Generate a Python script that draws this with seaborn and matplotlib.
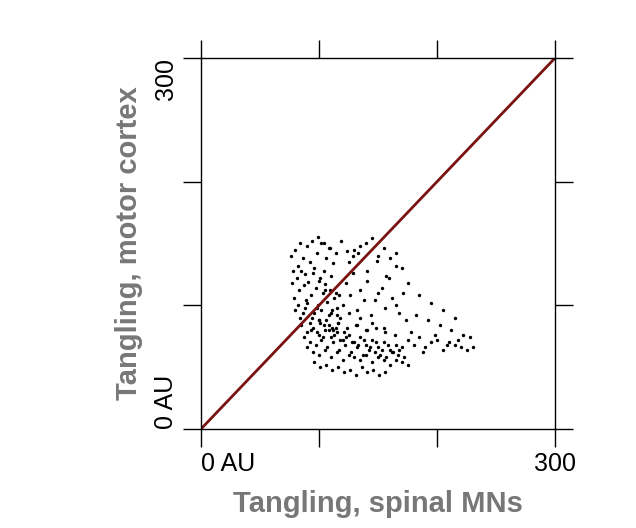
import matplotlib.pyplot as plt
import seaborn as sns
import pandas as pd

# tangling values (AU), spinal MNs vs motor cortex
spinal = [
    76, 78, 80, 82, 84, 86, 88, 90, 92, 94, 96, 98, 100, 102, 104, 106, 108, 110, 112, 114,
    77, 79, 81, 83, 85, 87, 89, 91, 93, 95, 97, 99, 101, 103, 105, 107, 109, 111, 113, 115,
    80, 84, 88, 92, 96, 100, 104, 108, 112, 116, 82, 86, 90, 94, 98, 102, 106, 110, 114, 118,
    85, 90, 95, 100, 105, 110, 115, 120, 125, 130, 135, 140, 145, 150, 155, 160, 165, 170,
    87, 92, 97, 102, 107, 112, 117, 122, 127, 132, 137, 142, 147, 152, 157, 162, 167, 172,
    90, 95, 100, 105, 110, 115, 120, 125, 130, 135, 140, 145, 150, 155, 160, 165, 170, 175,
    93, 98, 103, 108, 113, 118, 123, 128, 133, 138, 143, 148, 153, 158, 163, 168,
    96, 101, 106, 111, 116, 121, 126, 131, 136, 141, 146, 151, 156,
    100, 108, 116, 124, 132, 140, 148, 156, 164,
    175, 180, 185, 190, 195, 200, 205, 210, 215, 220, 225, 230, 178, 188, 198, 208, 218, 228,
    182, 192, 202, 212, 222, 185, 195, 205, 215,
    120, 126, 132, 138, 144, 150, 156, 162, 168, 174, 123, 129, 135, 141, 147, 153, 159, 165, 171,
    125, 133, 141, 149, 157, 165, 130, 140, 150, 160, 170, 135, 145, 155, 165, 175,
    99, 104, 109, 114, 119, 124, 129, 101, 111, 121, 131, 141, 115, 125, 135, 145, 155, 105, 117,
]
cortex = [
    140, 128, 145, 132, 150, 138, 125, 148, 135, 152, 130, 142, 120, 150, 128, 138, 146, 124, 134, 110,
    118, 106, 122, 112, 128, 116, 104, 119, 108, 126, 114, 100, 122, 110, 117, 103, 112, 96, 106, 92,
    96, 90, 98, 86, 94, 88, 84, 92, 80, 86, 100, 94, 102, 90, 98, 96, 88, 94, 82, 90,
    84, 78, 82, 76, 80, 74, 78, 72, 76, 70, 74, 68, 72, 66, 70, 64, 68, 66,
    74, 70, 68, 72, 66, 70, 64, 68, 62, 66, 60, 64, 62, 60, 58, 62, 60, 58,
    66, 62, 60, 64, 58, 62, 56, 60, 58, 56, 60, 54, 58, 56, 52, 56, 54, 52,
    80, 78, 74, 80, 76, 72, 74, 70, 68, 72, 66, 70, 64, 68, 62, 64,
    54, 50, 52, 48, 50, 46, 48, 44, 50, 46, 48, 44, 46,
    88, 84, 86, 82, 84, 80, 82, 78, 76,
    72, 68, 74, 66, 70, 72, 64, 70, 68, 66, 64, 66, 78, 62, 76, 68, 72, 74,
    92, 88, 84, 80, 76, 108, 102, 96, 90,
    100, 108, 96, 104, 92, 110, 98, 106, 94, 88, 118, 126, 112, 120, 104, 114, 122, 100, 110,
    135, 142, 128, 136, 124, 132, 145, 150, 140, 138, 130, 148, 154, 146, 142, 118,
    155, 150, 146, 142, 152, 144, 140, 86, 82, 78, 84, 80, 98, 94, 90, 86, 82, 112, 108,
]

df = pd.DataFrame({"spinal": spinal, "cortex": cortex})
ticks = [0, 100, 200, 300]
label_gray = "#777777"

plt.rcParams["font.family"] = "Liberation Sans"
fig = plt.figure(figsize=(6.36, 5.28), dpi=100)
ax = fig.add_axes([0.316, 0.1875, 0.557, 0.703])

sns.scatterplot(data=df, x="spinal", y="cortex", s=6, color="black", linewidth=0, ax=ax)
ax.plot(ticks[::3], ticks[::3], color="#7a1212", lw=2)

ax.set_xlim(0, 300)
ax.set_ylim(0, 300)
ax.set_xticks(ticks)
ax.set_yticks(ticks)
ax.set_xticklabels(["0 AU", "", "", "300"], fontsize=18)
ax.set_yticklabels(["0 AU", "", "", "300"], fontsize=18, rotation=90)
for lab, ha in zip(ax.get_xticklabels(), ["left", "center", "center", "center"]):
    lab.set_ha(ha)
ylabs = ax.get_yticklabels()
ylabs[0].set_va("bottom")
ylabs[3].set_va("top")
ax.tick_params(direction="out", length=13, width=1, top=True, right=True)
for sp in ax.spines.values():
    sp.set_linewidth(1)

ax.set_xlabel("Tangling, spinal MNs", fontsize=21, fontweight="bold", color=label_gray, labelpad=10)
ax.set_ylabel("Tangling, motor cortex", fontsize=21, fontweight="bold", color=label_gray, labelpad=8)

fig.savefig("out.png", dpi=100)
